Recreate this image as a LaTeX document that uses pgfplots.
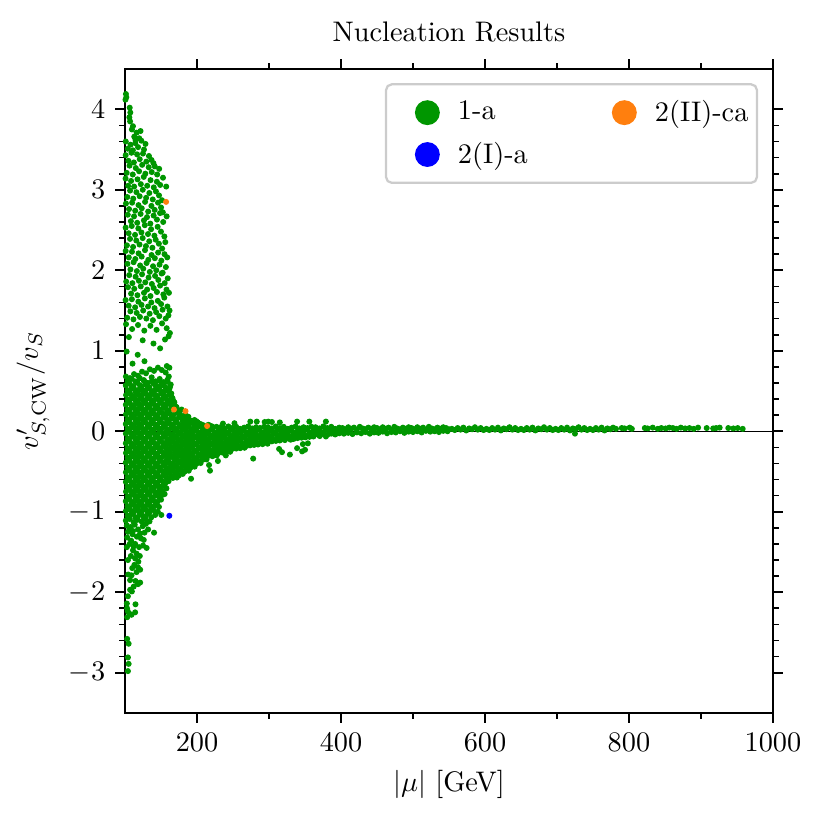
\documentclass[border=0pt]{standalone}
\usepackage{pgfplots}
\pgfplotsset{compat=1.18}
\definecolor{cgreen}{RGB}{0,150,0}
\definecolor{corange}{RGB}{255,127,14}
\definecolor{cblue}{RGB}{0,0,255}
\pgfplotsset{legcirc/.style={legend image code/.code={\path[draw=none,fill=none] (-9.2pt,-4.4pt) rectangle (13.2pt,4.4pt); \fill[#1,draw=none] (4.4pt,0pt) circle (4.4pt);}}}
\begin{document}
\begin{tikzpicture}
\useasboundingbox (-44.2pt,-39.6pt) rectangle (247.4pt,252pt);
\begin{axis}[
  at={(0pt,0pt)}, anchor=south west,
  width=229pt, height=227.6pt, scale only axis,
  xmin=100, xmax=1000, ymin=-3.5, ymax=4.5,
  xtick={200,400,600,800,1000},
  ytick={-3,-2,-1,0,1,2,3,4},
  minor x tick num=1, minor y tick num=4,
  tick align=outside, tick pos=both, xticklabel pos=lower, yticklabel pos=left,
  major tick length=3.5pt, minor tick length=2pt,
  every major tick/.append style={line width=0.8pt, black},
  every minor tick/.append style={line width=0.6pt, black},
  axis line style={line width=0.8pt},
  /pgf/number format/1000 sep={},
  title={Nucleation Results},
  xlabel={$|\mu|$ [GeV]},
  ylabel={$v'_{S,\mathrm{CW}}/v_S$},
  legend columns=2,
  legend cell align=left,
  legend style={at={(0.977,0.978)}, anchor=north east, draw=black!20, fill=white,
    rounded corners=2pt, line width=0.8pt, inner xsep=1pt, inner ysep=3.5pt, row sep=1.8pt,
    /tikz/every even column/.append style={column sep=18.5pt}},
]
% ---- green: upper cloud ----
\addplot[only marks, mark=*, mark size=0.85pt, color=cgreen, mark options={draw=none}, legcirc=cgreen] coordinates {
(101.2,4.19)(101.8,4.15)(100.6,4.12)(106.5,4.02)(107.3,3.96)(106.0,3.90)(107.0,3.85)
(109.5,3.75)(112.8,3.66)(116.0,3.71)(119.7,3.64)(121.5,3.73)(111.0,3.79)(114.5,3.62)
(101.0,3.60)(103.8,3.51)(107.6,3.56)(110.9,3.49)(114.2,3.58)(118.1,3.53)(122.6,3.61)(126.3,3.50)(128.4,3.57)
(100.9,3.43)(104.6,3.36)(108.9,3.46)(112.3,3.34)(116.7,3.44)(120.4,3.38)(124.9,3.45)(129.6,3.35)(133.2,3.42)(136.8,3.37)(139.5,3.33)
(102.3,3.21)(106.2,3.30)(110.7,3.19)(114.9,3.27)(119.5,3.23)(123.8,3.31)(128.2,3.20)(132.9,3.28)(137.1,3.22)(141.3,3.29)(144.6,3.19)(147.4,3.26)
(100.7,3.14)(104.3,3.05)(108.4,3.11)(112.6,3.04)(117.3,3.13)(121.9,3.07)(126.0,3.16)(130.8,3.05)(135.4,3.12)(139.9,3.03)(144.2,3.10)(148.8,3.06)(152.7,3.15)(157.2,3.04)
(103.1,2.91)(107.0,2.99)(111.4,2.89)(115.8,2.97)(120.3,2.92)(124.6,3.00)(129.3,2.90)(133.7,2.96)(138.5,2.88)(142.9,2.98)(147.2,2.93)(151.3,2.87)
(101.3,2.83)(105.5,2.76)(109.8,2.84)(114.1,2.74)(118.7,2.81)(123.2,2.77)(127.8,2.85)(132.1,2.73)(136.6,2.80)(141.2,2.75)(145.8,2.84)(150.0,2.78)(152.5,2.72)
(103.8,2.69)(108.1,2.61)(112.5,2.67)(116.9,2.59)(121.6,2.70)(126.2,2.62)(130.5,2.66)(135.1,2.58)(139.7,2.68)(144.3,2.63)(148.6,2.71)(153.0,2.60)(157.8,2.67)
(100.8,2.53)(105.0,2.46)(109.3,2.55)(113.9,2.44)(118.4,2.52)(122.8,2.47)(127.4,2.56)(131.9,2.45)(136.2,2.51)(140.8,2.43)(145.3,2.54)(149.9,2.48)(154.6,2.42)
(102.6,2.31)(106.9,2.39)(111.2,2.29)(115.6,2.37)(120.1,2.32)(124.5,2.40)(129.0,2.30)(133.6,2.36)(138.0,2.28)(142.6,2.38)(147.0,2.33)(151.5,2.27)(155.9,2.35)
(100.9,2.24)(105.2,2.16)(109.6,2.23)(114.3,2.14)(118.8,2.21)(123.1,2.17)(127.7,2.25)(132.3,2.13)(136.8,2.19)(141.4,2.15)(145.9,2.22)(150.4,2.12)(154.8,2.20)(158.6,2.16)
(103.3,2.08)(107.5,2.01)(111.9,2.10)(116.4,1.99)(120.9,2.06)(125.3,2.02)(129.9,2.09)(134.4,1.98)(138.9,2.05)(143.4,2.00)(147.9,2.07)(152.3,1.97)(156.7,2.04)
(101.6,1.86)(105.8,1.94)(110.2,1.84)(114.7,1.92)(119.2,1.87)(123.6,1.95)(128.1,1.85)(132.7,1.91)(137.2,1.83)(141.7,1.93)(146.2,1.88)(150.8,1.96)(155.1,1.84)(159.3,1.90)
(104.1,1.79)(108.4,1.71)(112.8,1.77)(117.2,1.69)(121.8,1.80)(126.3,1.72)(130.7,1.76)(135.3,1.68)(139.8,1.78)(144.3,1.73)(148.7,1.81)(153.2,1.70)(157.6,1.76)(161.0,1.72)
(100.8,1.63)(105.1,1.56)(109.5,1.64)(114.0,1.54)(118.5,1.61)(122.9,1.57)(127.5,1.65)(132.0,1.55)(136.5,1.60)(141.0,1.53)(145.5,1.62)(150.1,1.58)(154.5,1.66)(158.9,1.55)(161.8,1.50)
(103.0,1.41)(107.4,1.49)(111.7,1.39)(116.2,1.47)(120.7,1.42)(125.2,1.50)(129.6,1.40)(134.2,1.46)(138.7,1.38)(143.2,1.48)(147.6,1.43)(152.1,1.51)(156.5,1.40)(160.3,1.44)
(101.4,1.33)(109.8,1.27)(118.0,1.32)(126.7,1.25)(135.2,1.31)(143.8,1.26)(151.4,1.34)(157.9,1.28)(162.3,1.22)
(105.3,1.17)(124.5,1.13)(139.5,1.09)(155.5,1.14)(160.5,1.18)
(102.2,0.99)(117.6,0.95)(148.7,1.03)
(110.4,0.84)(127.0,0.87)(158.0,0.81)(161.6,0.79)
};
\addlegendentry{1-a}
% ---- green: dense left band ----
\addplot[only marks, mark=*, mark size=0.85pt, color=cgreen, mark options={draw=none}, forget plot] coordinates {
(101.2,0.68)(106.8,0.66)(112.5,0.71)(118.0,0.69)(123.6,0.74)(129.1,0.72)(134.5,0.77)(140.2,0.75)(145.7,0.79)(151.1,0.76)(156.4,0.73)(160.8,0.68)
(103.9,0.62)(109.4,0.65)(114.8,0.61)(120.5,0.66)(125.9,0.63)(131.6,0.60)(137.0,0.67)(142.4,0.62)(148.1,0.65)(153.6,0.61)(158.9,0.64)(163.5,0.58)
(101.0,0.57)(106.3,0.59)(111.7,0.55)(117.4,0.60)(122.9,0.56)(128.5,0.58)(133.8,0.54)(139.5,0.59)(144.9,0.56)(150.4,0.58)(155.8,0.55)(161.3,0.52)
(103.6,0.51)(109.2,0.53)(114.7,0.49)(120.1,0.52)(125.6,0.50)(131.2,0.53)(136.7,0.48)(142.2,0.51)(147.6,0.54)(153.1,0.49)(158.6,0.52)(164.2,0.47)
(101.4,0.45)(106.9,0.47)(112.2,0.43)(117.8,0.46)(123.3,0.44)(128.8,0.47)(134.2,0.42)(139.7,0.46)(145.3,0.44)(150.7,0.47)(156.2,0.43)(161.7,0.45)(166.0,0.41)
(103.8,0.39)(109.5,0.41)(114.9,0.37)(120.4,0.40)(125.8,0.38)(131.4,0.41)(136.9,0.37)(142.5,0.40)(147.9,0.38)(153.4,0.41)(158.8,0.37)(164.3,0.39)(168.5,0.36)
(101.1,0.33)(106.6,0.35)(112.0,0.31)(117.6,0.34)(123.1,0.32)(128.6,0.35)(134.0,0.31)(139.6,0.34)(145.0,0.32)(150.5,0.35)(156.0,0.31)(161.4,0.34)(166.9,0.32)(171.5,0.30)
(103.5,0.27)(109.0,0.29)(114.5,0.25)(120.0,0.28)(125.4,0.26)(131.0,0.29)(136.4,0.25)(141.9,0.28)(147.4,0.26)(152.9,0.29)(158.3,0.25)(163.8,0.28)(169.3,0.26)(174.6,0.24)(178.5,0.27)
(101.3,0.21)(106.8,0.23)(112.3,0.19)(117.7,0.22)(123.2,0.20)(128.7,0.23)(134.1,0.19)(139.7,0.22)(145.1,0.20)(150.6,0.23)(156.1,0.19)(161.5,0.22)(167.0,0.20)(172.4,0.23)(177.9,0.19)(183.3,0.21)(188.0,0.18)
(103.7,0.15)(109.2,0.17)(114.6,0.13)(120.2,0.16)(125.6,0.14)(131.1,0.17)(136.6,0.13)(142.0,0.16)(147.5,0.14)(153.0,0.17)(158.5,0.13)(163.9,0.16)(169.4,0.14)(174.8,0.17)(180.3,0.13)(185.8,0.15)(191.2,0.12)(196.5,0.14)(201.0,0.11)
(101.0,0.09)(106.5,0.11)(112.0,0.07)(117.4,0.10)(122.9,0.08)(128.4,0.11)(133.8,0.07)(139.3,0.10)(144.8,0.08)(150.3,0.11)(155.7,0.07)(161.2,0.10)(166.7,0.08)(172.1,0.11)(177.6,0.07)(183.1,0.10)(188.5,0.08)(194.0,0.10)(199.5,0.07)(204.9,0.09)(210.3,0.06)(215.8,0.08)(221.0,0.06)
(103.6,0.03)(109.1,0.05)(114.5,0.01)(120.0,0.04)(125.5,0.02)(131.0,0.05)(136.4,0.01)(141.9,0.04)(147.3,0.02)(152.8,0.05)(158.3,0.01)(163.7,0.04)
(101.2,-0.03)(106.7,-0.01)(112.1,-0.05)(117.6,-0.02)(123.1,-0.04)(128.5,-0.01)(134.0,-0.05)(139.5,-0.02)(144.9,-0.04)(150.4,-0.01)(155.9,-0.05)(161.3,-0.02)
(103.8,-0.09)(109.3,-0.07)(114.7,-0.11)(120.2,-0.08)(125.7,-0.10)(131.1,-0.07)(136.6,-0.11)(142.1,-0.08)(147.5,-0.10)(153.0,-0.07)(158.5,-0.11)(163.9,-0.08)
(101.1,-0.15)(106.6,-0.13)(112.0,-0.17)(117.5,-0.14)(123.0,-0.16)(128.4,-0.13)(133.9,-0.17)(139.4,-0.14)(144.8,-0.16)(150.3,-0.13)(155.8,-0.17)(161.2,-0.14)
(103.5,-0.21)(109.0,-0.19)(114.4,-0.23)(119.9,-0.20)(125.4,-0.22)(130.8,-0.19)(136.3,-0.23)(141.8,-0.20)(147.2,-0.22)(152.7,-0.19)(158.2,-0.23)(163.6,-0.20)
(101.3,-0.27)(106.8,-0.25)(112.2,-0.29)(117.7,-0.26)(123.2,-0.28)(128.6,-0.25)(134.1,-0.29)(139.6,-0.26)(145.0,-0.28)(150.5,-0.25)(156.0,-0.29)(161.4,-0.26)
(103.7,-0.33)(109.2,-0.31)(114.6,-0.35)(120.1,-0.32)(125.6,-0.34)(131.0,-0.31)(136.5,-0.35)(142.0,-0.32)(147.4,-0.34)(152.9,-0.31)(158.4,-0.35)(163.8,-0.32)
(101.0,-0.39)(106.5,-0.37)(111.9,-0.41)(117.4,-0.38)(122.9,-0.40)(128.3,-0.37)(133.8,-0.41)(139.3,-0.38)(144.7,-0.40)(150.2,-0.37)(155.7,-0.41)(161.1,-0.38)
(103.4,-0.45)(108.9,-0.43)(114.3,-0.47)(119.8,-0.44)(125.3,-0.46)(130.7,-0.43)(136.2,-0.47)(141.7,-0.44)(147.1,-0.46)(152.6,-0.43)(158.1,-0.47)(163.5,-0.44)
(101.2,-0.51)(106.7,-0.49)(112.1,-0.53)(117.6,-0.50)(123.1,-0.52)(128.5,-0.49)(134.0,-0.53)(139.5,-0.50)(144.9,-0.52)(150.4,-0.49)(155.9,-0.53)(161.3,-0.50)
(103.6,-0.57)(109.1,-0.55)(114.5,-0.59)(120.0,-0.56)(125.5,-0.58)(130.9,-0.55)(136.4,-0.59)(141.9,-0.56)(147.3,-0.58)(152.8,-0.55)(158.3,-0.59)(163.7,-0.56)
(101.1,-0.63)(106.6,-0.61)(112.0,-0.65)(117.5,-0.62)(123.0,-0.64)(128.4,-0.61)(133.9,-0.65)(139.4,-0.62)(144.8,-0.64)(150.3,-0.61)(155.8,-0.65)(160.5,-0.62)
(103.5,-0.69)(109.0,-0.67)(114.4,-0.71)(119.9,-0.68)(125.4,-0.70)(130.8,-0.67)(136.3,-0.71)(141.8,-0.68)(147.2,-0.70)(152.7,-0.67)(157.5,-0.71)
(101.3,-0.75)(106.8,-0.73)(112.2,-0.77)(117.7,-0.74)(123.2,-0.76)(128.6,-0.73)(134.1,-0.77)(139.6,-0.74)(145.0,-0.76)(150.5,-0.73)(155.0,-0.78)
(103.7,-0.81)(109.2,-0.79)(114.6,-0.83)(120.1,-0.80)(125.6,-0.82)(131.0,-0.79)(136.5,-0.83)(142.0,-0.80)(147.4,-0.82)(152.0,-0.79)
(101.0,-0.87)(106.5,-0.85)(111.9,-0.89)(117.4,-0.86)(122.9,-0.88)(128.3,-0.85)(133.8,-0.89)(139.3,-0.86)(144.7,-0.88)(150.0,-0.85)
(103.4,-0.93)(108.9,-0.91)(114.3,-0.95)(119.8,-0.92)(125.3,-0.94)(130.7,-0.91)(136.2,-0.95)(141.7,-0.92)(147.1,-0.94)
(101.2,-0.99)(106.7,-0.97)(112.1,-1.01)(117.6,-0.98)(123.1,-1.00)(128.5,-0.97)(134.0,-1.01)(139.5,-0.98)(145.5,-1.00)
(103.6,-1.05)(109.1,-1.03)(114.5,-1.07)(120.0,-1.04)(125.5,-1.06)(130.9,-1.03)(136.4,-1.07)(141.9,-1.04)(150.4,-1.04)
(101.1,-1.11)(106.6,-1.09)(112.0,-1.13)(117.5,-1.10)(123.0,-1.12)(128.4,-1.09)(134.0,-1.12)
(102.5,-1.17)(108.0,-1.19)(113.5,-1.16)(118.0,-1.22)(124.5,-1.18)(129.0,-1.15)(140.3,-1.26)
(106.0,-1.21)(111.0,-1.24)(121.0,-1.27)(132.0,-1.22)(106.5,-1.40)(112.0,-1.43)(126.0,-1.35)(108.0,-1.55)(104.0,-1.60)(110.0,-1.70)(116.0,-1.75)(107.0,-1.85)(112.0,-1.93)(104.0,-2.05)
(104.0,-1.25)(110.5,-1.28)(116.5,-1.31)(122.0,-1.33)(127.0,-1.26)(103.0,-1.32)(108.5,-1.36)
(114.0,-1.40)(119.5,-1.44)(125.0,-1.42)(130.0,-1.45)(102.5,-1.44)(111.0,-1.48)(116.0,-1.52)(120.5,-1.55)
(114.0,-1.58)(118.5,-1.62)(113.0,-1.66)(118.0,-1.69)(121.0,-1.72)(104.5,-1.78)(109.0,-1.79)
(114.5,-1.86)(118.0,-1.90)(121.0,-1.88)(107.0,-1.97)(109.5,-1.99)(102.5,-2.14)(114.5,-2.15)(114.0,-2.25)
(102.8,-2.20)(104.0,-2.24)(106.5,-2.27)(103.0,-2.31)(109.0,-2.28)(103.0,-2.58)(105.0,-2.64)(104.0,-2.81)(105.0,-2.89)(104.0,-2.98)
};
% ---- green: dense band, in-between points ----
\addplot[only marks, mark=*, mark size=0.85pt, color=cgreen, mark options={draw=none}, forget plot] coordinates {
(104.2,0.63)(115.2,0.62)(126.2,0.635)(137.2,0.62)(148.2,0.63)(159.2,0.615)
(109.7,0.56)(120.7,0.57)(131.7,0.565)(142.7,0.56)(153.7,0.57)(162.5,0.55)
(104.2,0.50)(115.2,0.51)(126.2,0.505)(137.2,0.50)(148.2,0.51)(159.2,0.50)
(109.7,0.44)(120.7,0.45)(131.7,0.445)(142.7,0.44)(153.7,0.45)(164.5,0.43)
(104.2,0.38)(115.2,0.39)(126.2,0.385)(137.2,0.38)(148.2,0.39)(159.2,0.38)(167.5,0.37)
(109.7,0.32)(120.7,0.33)(131.7,0.325)(142.7,0.32)(153.7,0.33)(164.7,0.32)(170.0,0.31)
(104.2,0.26)(115.2,0.27)(126.2,0.265)(137.2,0.26)(148.2,0.27)(159.2,0.26)(170.2,0.25)(176.0,0.255)
(109.7,0.20)(120.7,0.21)(131.7,0.205)(142.7,0.20)(153.7,0.21)(164.7,0.20)(175.7,0.20)(185.0,0.19)
(104.2,0.14)(115.2,0.15)(126.2,0.145)(137.2,0.14)(148.2,0.15)(159.2,0.14)(170.2,0.145)(181.2,0.14)(192.2,0.13)(199.0,0.125)
(109.7,0.08)(120.7,0.09)(131.7,0.085)(142.7,0.08)(153.7,0.09)(164.7,0.085)(175.7,0.08)(186.7,0.085)(197.7,0.08)(208.7,0.075)(218.0,0.07)
(104.2,0.02)(115.2,0.03)(126.2,0.025)(137.2,0.02)(148.2,0.03)(159.2,0.02)
(109.7,-0.04)(120.7,-0.03)(131.7,-0.035)(142.7,-0.04)(153.7,-0.03)(162.0,-0.035)
(104.2,-0.10)(115.2,-0.09)(126.2,-0.095)(137.2,-0.10)(148.2,-0.09)(159.2,-0.10)
(109.7,-0.16)(120.7,-0.15)(131.7,-0.155)(142.7,-0.16)(153.7,-0.15)(162.0,-0.155)
(104.2,-0.22)(115.2,-0.21)(126.2,-0.215)(137.2,-0.22)(148.2,-0.21)(159.2,-0.22)
(109.7,-0.28)(120.7,-0.27)(131.7,-0.275)(142.7,-0.28)(153.7,-0.27)(162.0,-0.275)
(104.2,-0.34)(115.2,-0.33)(126.2,-0.335)(137.2,-0.34)(148.2,-0.33)(159.2,-0.34)
(109.7,-0.40)(120.7,-0.39)(131.7,-0.395)(142.7,-0.40)(153.7,-0.39)(162.0,-0.395)
(104.2,-0.46)(115.2,-0.45)(126.2,-0.455)(137.2,-0.46)(148.2,-0.45)(159.2,-0.46)
(109.7,-0.52)(120.7,-0.51)(131.7,-0.515)(142.7,-0.52)(153.7,-0.51)(162.0,-0.515)
(104.2,-0.58)(115.2,-0.57)(126.2,-0.575)(137.2,-0.58)(148.2,-0.57)(159.2,-0.58)
(109.7,-0.64)(120.7,-0.63)(131.7,-0.635)(142.7,-0.64)(153.7,-0.63)
(104.2,-0.70)(115.2,-0.69)(126.2,-0.695)(137.2,-0.70)(148.2,-0.69)
(109.7,-0.76)(120.7,-0.75)(131.7,-0.755)(142.7,-0.76)(152.0,-0.75)
(104.2,-0.82)(115.2,-0.81)(126.2,-0.815)(137.2,-0.82)(148.2,-0.81)
(109.7,-0.88)(120.7,-0.87)(131.7,-0.875)(142.7,-0.88)
(104.2,-0.94)(115.2,-0.93)(126.2,-0.935)(137.2,-0.94)
(109.7,-1.00)(120.7,-0.99)(131.7,-0.995)
};
% ---- green: funnel ----
\addplot[only marks, mark=*, mark size=0.85pt, color=cgreen, mark options={draw=none}, forget plot] coordinates {
(166.5,0.05)(172.0,0.035)(177.5,0.06)(183.0,0.04)(188.5,0.055)(194.0,0.03)(199.5,0.045)(205.0,0.06)(210.5,0.035)(216.0,0.05)(221.5,0.04)(227.0,0.055)(232.5,0.05)(238.0,0.035)(243.5,0.06)(249.0,0.04)(254.5,0.055)(260.0,0.03)(265.5,0.045)(271.0,0.06)(276.5,0.035)(282.0,0.05)(287.5,0.04)(293.0,0.055)(298.5,0.05)(304.0,0.035)(309.5,0.06)(315.0,0.04)(320.5,0.055)(326.0,0.03)(331.5,0.045)(337.0,0.06)(342.5,0.035)(348.0,0.05)(353.5,0.04)(359.0,0.055)(364.5,0.05)(370.0,0.035)(375.5,0.06)(381.0,0.04)(386.5,0.055)(392.0,0.03)(397.5,0.045)
(169.2,0.01)(174.7,-0.01)(180.2,0.015)(185.7,-0.005)(191.2,0.0)(196.7,0.012)(202.2,-0.012)(207.7,0.005)(213.2,-0.008)(218.7,0.018)(224.2,-0.015)(229.7,0.008)(235.2,0.01)(240.7,-0.01)(246.2,0.015)(251.7,-0.005)(257.2,0.0)(262.7,0.012)(268.2,-0.012)(273.7,0.005)(279.2,-0.008)(284.7,0.018)(290.2,-0.015)(295.7,0.008)(301.2,0.01)(306.7,-0.01)(312.2,0.015)(317.7,-0.005)(323.2,0.0)(328.7,0.012)(334.2,-0.012)(339.7,0.005)(345.2,-0.008)(350.7,0.018)(356.2,-0.015)(361.7,0.008)(367.2,0.01)(372.7,-0.01)(378.2,0.015)(383.7,-0.005)(389.2,0.0)(394.7,0.012)(400.2,-0.012)
(166.5,-0.04)(172.0,-0.055)(177.5,-0.035)(183.0,-0.05)(188.5,-0.045)(194.0,-0.03)(199.5,-0.06)(205.0,-0.04)(210.5,-0.05)(216.0,-0.035)(221.5,-0.055)(227.0,-0.045)(232.5,-0.04)(238.0,-0.055)(243.5,-0.035)(249.0,-0.05)(254.5,-0.045)(260.0,-0.03)(265.5,-0.06)(271.0,-0.04)(276.5,-0.05)(282.0,-0.035)(287.5,-0.055)(293.0,-0.045)(298.5,-0.04)(304.0,-0.055)(309.5,-0.035)(315.0,-0.05)(320.5,-0.045)(326.0,-0.03)(331.5,-0.06)(337.0,-0.04)(342.5,-0.05)(348.0,-0.035)(353.5,-0.055)(359.0,-0.045)(364.5,-0.04)(370.0,-0.05)(375.5,-0.035)(381.0,-0.045)(386.5,-0.03)(392.0,-0.04)(397.5,-0.025)
(169.2,-0.085)(174.7,-0.1)(180.2,-0.08)(185.7,-0.095)(191.2,-0.09)(196.7,-0.075)(202.2,-0.105)(207.7,-0.085)(213.2,-0.095)(218.7,-0.08)(224.2,-0.1)(229.7,-0.09)(235.2,-0.085)(240.7,-0.1)(246.2,-0.08)(251.7,-0.095)(257.2,-0.09)(262.7,-0.075)(268.2,-0.105)(273.7,-0.085)(279.2,-0.095)(284.7,-0.08)(290.2,-0.1)(295.7,-0.09)(301.2,-0.085)(306.7,-0.1)(312.2,-0.08)(317.7,-0.095)(323.2,-0.09)(328.7,-0.075)(334.2,-0.095)(339.7,-0.085)(345.2,-0.08)(350.7,-0.075)(356.2,-0.07)(361.7,-0.065)(370.5,-0.06)(379.0,-0.065)
(166.5,-0.13)(172.0,-0.145)(177.5,-0.125)(183.0,-0.14)(188.5,-0.135)(194.0,-0.12)(199.5,-0.15)(205.0,-0.13)(210.5,-0.14)(216.0,-0.125)(221.5,-0.145)(227.0,-0.135)(232.5,-0.13)(238.0,-0.145)(243.5,-0.125)(249.0,-0.14)(254.5,-0.135)(260.0,-0.12)(265.5,-0.15)(271.0,-0.13)(276.5,-0.14)(282.0,-0.125)(287.5,-0.145)(293.0,-0.135)(298.5,-0.13)(304.0,-0.125)(309.5,-0.12)(315.0,-0.115)(322.0,-0.11)(330.0,-0.105)
(169.2,-0.175)(174.7,-0.19)(180.2,-0.17)(185.7,-0.185)(191.2,-0.18)(196.7,-0.165)(202.2,-0.195)(207.7,-0.175)(213.2,-0.185)(218.7,-0.17)(224.2,-0.19)(229.7,-0.18)(235.2,-0.175)(240.7,-0.19)(246.2,-0.17)(251.7,-0.185)(257.2,-0.18)(262.7,-0.165)(268.2,-0.185)(273.7,-0.175)(279.2,-0.17)(284.7,-0.165)(291.0,-0.16)(298.0,-0.155)
(166.5,-0.22)(172.0,-0.235)(177.5,-0.215)(183.0,-0.23)(188.5,-0.225)(194.0,-0.21)(199.5,-0.24)(205.0,-0.22)(210.5,-0.23)(216.0,-0.215)(221.5,-0.235)(227.0,-0.225)(232.5,-0.22)(238.0,-0.235)(243.5,-0.215)(249.0,-0.22)(254.5,-0.215)(260.0,-0.21)(266.0,-0.205)
(169.2,-0.265)(174.7,-0.28)(180.2,-0.26)(185.7,-0.275)(191.2,-0.27)(196.7,-0.255)(202.2,-0.285)(207.7,-0.265)(213.2,-0.275)(218.7,-0.26)(224.2,-0.28)(229.7,-0.27)(235.2,-0.265)(240.7,-0.26)(246.0,-0.255)
(166.5,-0.31)(172.0,-0.325)(177.5,-0.305)(183.0,-0.32)(188.5,-0.315)(194.0,-0.3)(199.5,-0.33)(205.0,-0.31)(210.5,-0.32)(216.0,-0.305)(221.5,-0.31)(227.5,-0.3)
(169.2,-0.355)(174.7,-0.37)(180.2,-0.35)(185.7,-0.365)(191.2,-0.36)(196.7,-0.345)(202.2,-0.375)(207.7,-0.355)(213.2,-0.35)
(166.5,-0.4)(172.0,-0.415)(177.5,-0.395)(183.0,-0.41)(188.5,-0.405)(194.0,-0.39)(199.5,-0.4)(205.0,-0.395)
(169.2,-0.445)(174.7,-0.46)(180.2,-0.44)(185.7,-0.455)(191.2,-0.45)(196.7,-0.44)
(166.5,-0.49)(172.0,-0.505)(177.5,-0.485)(183.0,-0.5)(188.5,-0.49)
(169.2,-0.535)(174.7,-0.55)(180.2,-0.53)(166.5,-0.58)(172.0,-0.575)
(274,0.12)(283,0.12)(294,0.115)(299,0.12)(304,0.115)(315,0.11)(339,0.12)(356,0.12)(379,0.12)(252,0.1)(236,0.095)
(278,-0.34)(314,-0.22)(318,-0.26)(329,-0.29)(339,-0.21)(346,-0.25)(350,-0.23)(347,-0.16)(354,-0.15)(191.7,-0.59)(218,-0.49)(216.7,-0.42)(725,-0.03)(229,-0.37)(240,-0.3)
};
% ---- green: tail ----
\addplot[only marks, mark=*, mark size=0.85pt, color=cgreen, mark options={draw=none}, forget plot] coordinates {
(402,0.04)(406,0.025)(410,0.05)(414,0.03)(418,0.045)(422,0.02)(426,0.055)(430,0.035)(434,0.025)(438,0.045)(442,0.03)(446,0.05)
(450,0.04)(454,0.025)(458,0.05)(462,0.03)(466,0.045)(470,0.02)(474,0.055)(478,0.035)(482,0.025)(486,0.045)(490,0.03)(494,0.05)
(498,0.04)(502,0.025)(506,0.05)(510,0.03)(514,0.045)(518,0.02)(522,0.055)(526,0.035)(530,0.025)(534,0.045)(538,0.03)(542,0.05)(546,0.04)(550,0.025)
(404,-0.03)(410,-0.02)(416,-0.035)(422,-0.015)(428,-0.025)(434,-0.01)(440,-0.03)(446,-0.015)(452,-0.02)(458,-0.005)(464,-0.025)(470,-0.01)(476,-0.015)(482,0.0)(488,-0.02)(494,-0.005)(500,-0.01)(506,0.0)(512,-0.015)(518,0.005)(524,-0.005)(530,0.0)(536,-0.01)(542,0.005)(548,0.0)
(554,0.03)(558,0.015)(562,0.04)(566,0.02)(570,0.045)(574,0.01)(578,0.035)(582,0.025)(586,0.05)(590,0.02)(594,0.04)(598,0.015)
(602,0.03)(606,0.015)(610,0.04)(614,0.02)(618,0.045)(622,0.01)(626,0.035)(630,0.025)(634,0.05)(638,0.02)(642,0.04)(646,0.015)
(650,0.03)(654,0.015)(658,0.04)(662,0.02)(666,0.045)(670,0.01)(674,0.035)(678,0.025)(682,0.05)(686,0.02)(690,0.04)(694,0.015)
(698,0.03)(702,0.015)(706,0.04)(710,0.02)(714,0.045)(718,0.01)(722,0.035)(726,0.025)(730,0.05)(734,0.02)(738,0.04)(742,0.015)
(746,0.03)(750,0.015)(754,0.04)(758,0.02)(762,0.045)(766,0.01)(770,0.035)(774,0.025)(778,0.045)(782,0.03)
(790,0.04)(794,0.035)(801,0.045)(804,0.03)(822,0.04)(826,0.035)(833,0.045)(840,0.03)(845,0.04)(851,0.035)(856,0.045)(861,0.04)(866,0.03)(872,0.045)(878,0.035)(884,0.04)(890,0.03)(896,0.045)(908,0.04)(917,0.035)(921,0.04)(926,0.045)(938,0.04)(945,0.035)(951,0.04)(958,0.03)
};
% ---- orange ----
\addplot[only marks, mark=*, mark size=0.85pt, color=corange, mark options={draw=none}, legcirc=corange] coordinates {
(157,2.85)(168,0.27)(184,0.25)(214,0.065)
};
\addlegendentry{2(II)-ca}
% ---- blue ----
\addplot[only marks, mark=*, mark size=0.85pt, color=cblue, mark options={draw=none}, legcirc=cblue] coordinates {
(161.5,-1.05)
};
\addlegendentry{2(I)-a}
\addplot[black, line width=0.5pt, forget plot] coordinates {(100,0) (1000,0)};
\end{axis}
\end{tikzpicture}
\end{document}
